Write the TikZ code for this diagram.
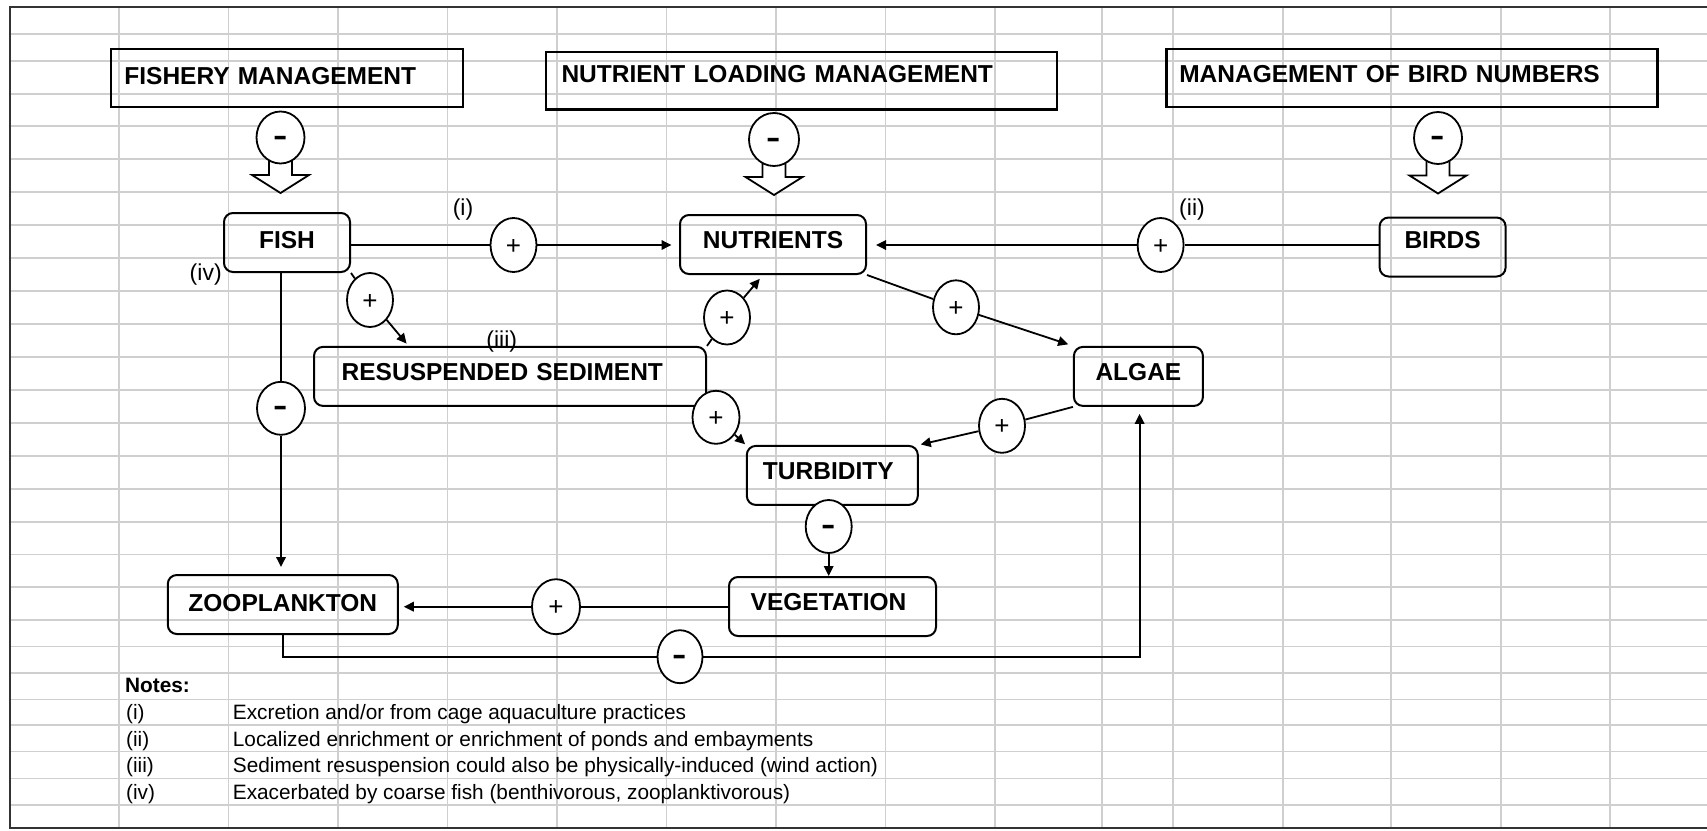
\documentclass[tikz,border=0pt]{standalone}
\usepackage{fontspec}
\setmainfont{Liberation Sans}
\usetikzlibrary{shapes.geometric, arrows.meta, calc}
\pgfdeclarelayer{background}
\pgfsetlayers{background,main}
\newcommand{\sgnplus}{\raisebox{-0.35em}[0pt][0pt]{+}}
\newcommand{\sgnminus}{\raisebox{-0.37em}[0pt][0pt]{\scalebox{0.85}[1.35]{\bfseries –}}}
\begin{document}
\begin{tikzpicture}[x=1pt, y=-1pt,
  gridline/.style={draw=black!19, line width=1.3pt},
  frameline/.style={draw=black!80, line width=2pt},
  mgmtbox/.style={draw, line width=2.4pt, rectangle, inner ysep=0pt, align=left,
    font=\fontsize{24.5}{28}\selectfont\bfseries, text height=17.6pt, minimum height=58pt},
  rbox/.style={draw, line width=2pt, rounded corners=9pt, inner sep=0pt,
    font=\fontsize{24.5}{28}\selectfont\bfseries, text height=17.6pt, minimum height=59pt},
  sign/.style={draw, ellipse, line width=1.8pt, fill=white, inner sep=0pt,
    minimum width=46pt, minimum height=54pt, font=\fontsize{26}{26}\selectfont},
  msign/.style={sign, minimum width=48pt, minimum height=52pt},
  conn/.style={line width=1.8pt},
  arr/.style={conn, -{Triangle[length=10pt,width=9.5pt]}},
  blockarrow/.style={draw, line width=1.8pt, fill=white, line join=miter},
  note/.style={anchor=base west, inner sep=0pt, font=\fontsize{20.8}{24}\selectfont},
  lbl/.style={inner sep=0pt, font=\fontsize{23}{26}\selectfont},
]
\useasboundingbox (0,0) rectangle (1707,830);

% management boxes
\node[mgmtbox, minimum width=352pt, inner xsep=13.4pt, text width=325.2pt, text depth=5pt] (fm) at (287,78) {FISHERY MANAGEMENT};
\node[mgmtbox, minimum height=57.6pt, inner xsep=15.5pt, text width=480pt, text depth=13pt] (nlm) at (801.5,80.5) {NUTRIENT LOADING MANAGEMENT};
\node[mgmtbox, inner xsep=12.8pt, text width=465.4pt, text depth=8pt] (mbn) at (1412,78) {MANAGEMENT OF BIRD NUMBERS};

% rounded boxes
\node[rbox, minimum width=126pt, text depth=5pt] (fish) at (287,242.5) {FISH};
\node[rbox, minimum width=186pt, text depth=9pt] (nut) at (773,244.5) {NUTRIENTS};
\node[rbox, minimum width=126pt, text depth=14pt] (birds) at (1442.6,247) {BIRDS};
\node[rbox, minimum width=392pt, inner xsep=27.7pt, text width=336.6pt, align=left, text depth=9pt] (res) at (510,376.4) {RESUSPENDED SEDIMENT};
\node[rbox, minimum width=129pt, text depth=9.4pt] (alg) at (1138.4,376.4) {ALGAE};
\node[rbox, minimum width=171pt, text depth=9.4pt] (turb) at (832.3,475.4) {TURBIDITY\hspace*{8pt}};
\node[rbox, minimum width=207pt, text depth=9.6pt] (veg) at (832.5,606.5) {VEGETATION\hspace*{8pt}};
\node[rbox, minimum width=230pt, text depth=3.6pt] (zoo) at (282.8,604.5) {ZOOPLANKTON};

% sign ellipses
\node[msign] (fmm) at (280.5,137.5) {\sgnminus};
\node[msign, minimum width=50pt, minimum height=53pt] (nlmm) at (774,139.5) {\sgnminus};
\node[msign] (mbnm) at (1438,138) {\sgnminus};
\node[sign] (pfn) at (513.5,245) {\sgnplus};
\node[sign] (pbn) at (1160.6,245) {\sgnplus};
\node[sign] (pfr) at (370,300) {\sgnplus};
\node[sign, minimum width=48pt, minimum height=53pt] (mfz) at (281,408.3) {\sgnminus};
\node[sign] (prn) at (727,317.5) {\sgnplus};
\node[sign, minimum width=47pt, minimum height=53pt] (prt) at (716,417.3) {\sgnplus};
\node[sign] (pna) at (956,307.3) {\sgnplus};
\node[sign] (pat) at (1002,425.8) {\sgnplus};
\node[sign, minimum height=53pt] (mtv) at (828.7,526.5) {\sgnminus};
\node[sign, minimum width=48pt, minimum height=55pt] (pvz) at (556,606.7) {\sgnplus};
\node[sign, minimum width=45pt, minimum height=53pt] (mza) at (680,656.7) {\sgnminus};

% labels
\node[lbl] (li) at (463,210) {(i)};
\node[lbl] (lii) at (1192,210) {(ii)};
\node[lbl] (liii) at (501.7,341.7) {(iii)};
\node[lbl] (liv) at (205.7,275) {(iv)};

% connectors
\draw[conn] (fish.east |- pfn) -- (pfn);
\draw[arr, shorten >=7.5pt] (pfn) -- (nut.west |- pfn);
\draw[conn] (birds.west |- pbn) -- (pbn);
\draw[arr, shorten >=9pt] (pbn) -- (nut.east |- pbn);
\draw[conn] (fish.south east) -- (pfr);
\coordinate (rtip) at ($(res.north west)+(95.5,0)$);
\draw[arr, shorten >=3pt] (pfr) -- (rtip);
\draw[conn] (mfz |- fish.south) -- (mfz);
\draw[arr, shorten >=7pt] (mfz) -- (mfz |- zoo.north);
\draw[conn] (res.north east) -- (prn);
\coordinate (ntip) at ($(nut.south west)+(84,0)$);
\draw[arr, shorten >=5pt] (prn) -- (ntip);
\draw[arr, shorten >=1pt] (prt) -- (turb.north west);
\draw[conn] (nut.south east) -- (pna);
\draw[arr, shorten >=5pt] (pna) -- (alg.north west);
\draw[conn] (alg.south west) -- (pat);
\draw[arr, shorten >=2pt] (pat) -- (turb.north east);
\draw[arr] (mtv) -- (mtv |- veg.north);
\draw[conn] (veg.west |- pvz) -- (pvz);
\draw[arr, shorten >=5pt] (pvz) -- (zoo.east |- pvz);
\coordinate (zz1) at (283,656.7);
\coordinate (zz2) at (1139.6,656.7);
\draw[conn] (zz1 |- zoo.south) -- (zz1) -- (mza);
\draw[arr, shorten >=7pt] (mza) -- (zz2) -- (zz2 |- alg.south);

% notes
\node[note, font=\fontsize{20.8}{24}\selectfont\bfseries] (nh) at (125,692.7) {Notes:};
\node[note] (n1l) at (126,719.3) {(i)};
\node[note] (n1t) at (232.7,719.3) {Excretion and/or from cage aquaculture practices};
\node[note] (n2l) at (126,746) {(ii)};
\node[note] (n2t) at (232.7,746) {Localized enrichment or enrichment of ponds and embayments};
\node[note] (n3l) at (126,772.6) {(iii)};
\node[note] (n3t) at (232.7,772.6) {Sediment resuspension could also be physically-induced (wind action)};
\node[note] (n4l) at (126,799.2) {(iv)};
\node[note] (n4t) at (232.7,799.2) {Exacerbated by coarse fish (benthivorous, zooplanktivorous)};

\begin{pgfonlayer}{background}
  \foreach \yy in {34,61,94,126,159,192,225,258,291,324,357,390,423,456,489,522,554.5,587,620,646.6,673,699.3,725,751.7,778.3,805}
    \draw[gridline] (10,\yy) -- (1707,\yy);
  \foreach \xx in {119,228.5,338,447.5,557,666.5,776,885.5,995,1102,1173,1283,1391,1501,1610}
    \draw[gridline] (\xx,7) -- (\xx,828);
  \draw[frameline] (1707,7) -- (10,7) -- (10,828) -- (1707,828);
  \foreach \m in {fmm,nlmm,mbnm}
    \draw[blockarrow] ($(\m.center)+(-11.5,0)$) -- ++(0,37.5) -- ++(-17,0) -- ++(28.5,18) -- ++(28.5,-18) -- ++(-17,0) -- ++(0,-37.5) -- cycle;
\end{pgfonlayer}
\end{tikzpicture}
\end{document}
